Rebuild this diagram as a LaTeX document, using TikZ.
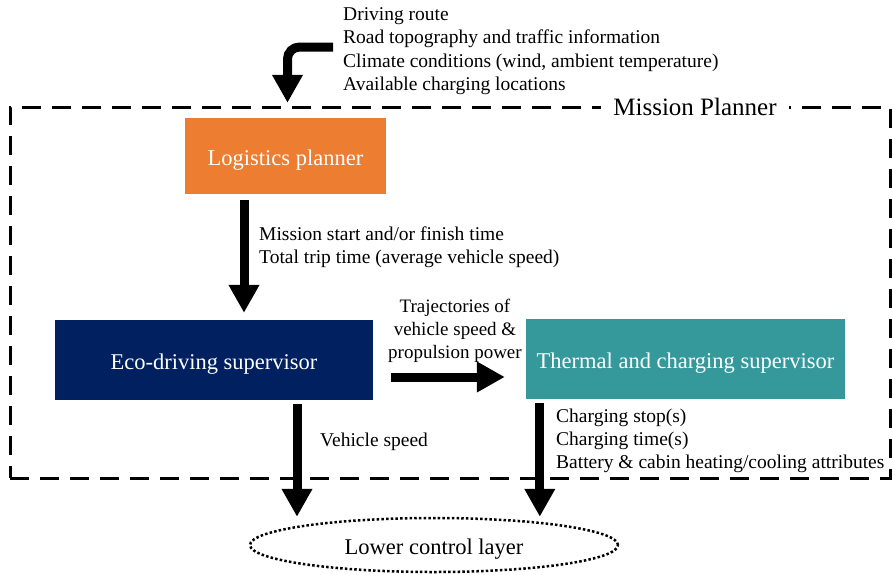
\documentclass[tikz,border=0pt]{standalone}
\usepackage{fontspec}
\setmainfont{Liberation Serif}
\usetikzlibrary{arrows.meta,shapes.geometric}
\definecolor{lporange}{RGB}{237,125,49}
\definecolor{econavy}{RGB}{0,32,96}
\definecolor{tcsteal}{RGB}{53,153,156}
\tikzset{
  box/.style={inner sep=0pt, text=white, text height=18pt, text depth=0pt, font=\fontsize{22.5}{27}\selectfont},
  lbl/.style={inner sep=0pt, align=left, font=\fontsize{19.5}{23.3}\selectfont},
  bigarrow/.style={line width=9pt, -{Triangle[width=29pt,length=28pt]}},
}
\begin{document}
\begin{tikzpicture}[x=1pt,y=-1pt]
        \useasboundingbox (0,0) rectangle (892,574);
        % mission planner frame
        \node[draw, line width=3pt, dash pattern=on 19pt off 11pt,
              minimum width=880pt, minimum height=371pt, inner sep=0pt] (mp) at (450,292.5) {};
        \node[fill=white, inner xsep=12pt, inner ysep=2pt, font=\fontsize{25}{30}\selectfont] (mpl) at (695,107) {Mission Planner};
        % blocks
        \node[box, fill=lporange, minimum width=201pt, minimum height=76pt] (lp) at (285.5,156) {Logistics planner};
        \node[box, fill=econavy, minimum width=318pt, minimum height=80pt] (eco) at (214,360) {Eco-driving supervisor};
        \node[box, fill=tcsteal, minimum width=319pt, minimum height=80pt] (tcs) at (685.5,359) {Thermal and charging supervisor};
        \node[draw, ellipse, line width=2.5pt, dash pattern=on 2.5pt off 2.2pt, inner sep=0pt, text height=18pt, text depth=0pt,
              minimum width=368pt, minimum height=54pt, font=\fontsize{22.5}{27}\selectfont] (lcl) at (434,545) {Lower control layer};
        % inputs
        \coordinate (src) at (333,47);
        \node[lbl, anchor=west] (inp) at (343,51) {Driving route\\Road topography and traffic information\\Climate conditions (wind, ambient temperature)\\Available charging locations};
        \draw[bigarrow, rounded corners=12pt] (src) -| ([xshift=2pt,yshift=15pt]lp.north);
        % arrows between blocks
        \draw[bigarrow] ([xshift=-41.5pt,yshift=-6pt]lp.south) -- ([xshift=30pt,yshift=7pt]eco.north);
        \node[lbl, anchor=west] (mst) at (259,247) {Mission start and/or finish time\\Total trip time (average vehicle speed)};
        \draw[bigarrow] ([xshift=18pt,yshift=-17pt]eco.east) -- ([xshift=-21pt,yshift=-18pt]tcs.west);
        \node[lbl, align=center, font=\fontsize{19}{23.3}\selectfont] (traj) at (455,331) {Trajectories of\\vehicle speed \&\\propulsion power};
        \draw[bigarrow] ([xshift=83pt,yshift=-4pt]eco.south) -- ([xshift=83pt]eco.south |- lcl.north);
        \node[lbl, anchor=west] (vs) at (320,442) {Vehicle speed};
        \draw[bigarrow] ([xshift=14pt,yshift=-4pt]tcs.south west) -- ([xshift=14pt]tcs.south west |- lcl.north);
        \node[lbl, anchor=west] (chg) at (556,441) {Charging stop(s)\\Charging time(s)\\Battery \& cabin heating/cooling attributes};
    \end{tikzpicture}
\end{document}
